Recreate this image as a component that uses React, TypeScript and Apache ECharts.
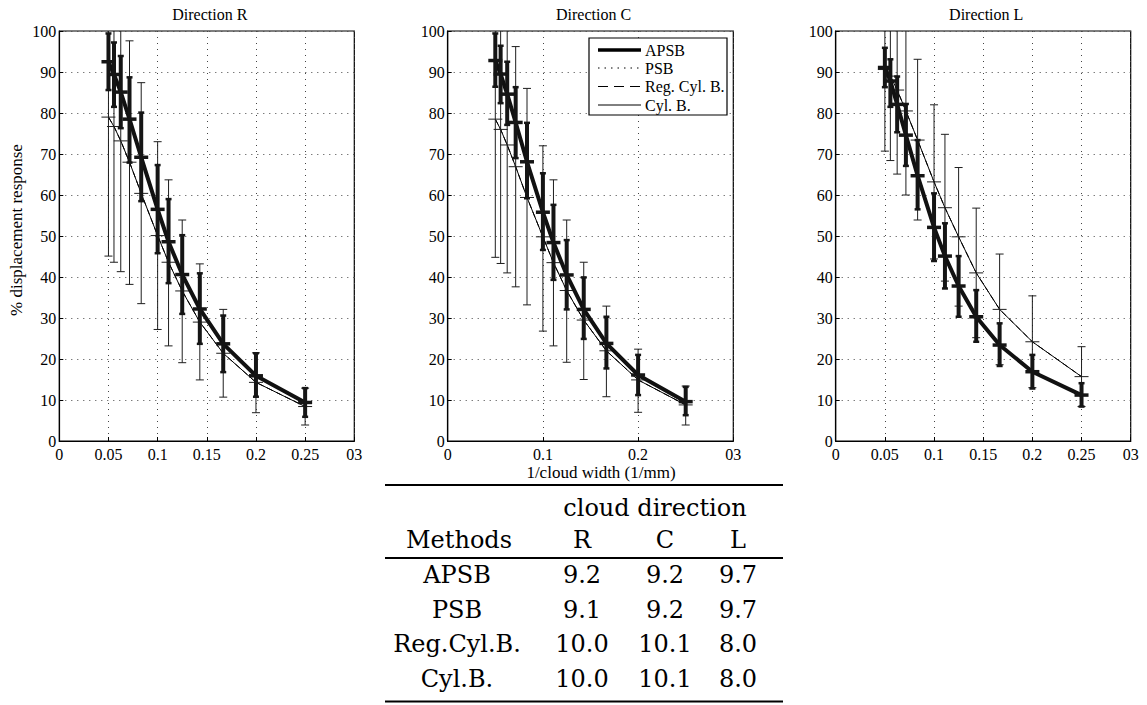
import React, { useEffect, useRef } from "react";
import * as echarts from "echarts";

// x values: 1/cloud width (1/mm)
const invWidth = [0.05, 0.0556, 0.0625, 0.0714, 0.0833, 0.1, 0.1111, 0.125, 0.1429, 0.1667, 0.2, 0.25];

// Direction R
const apsbR = [92.5, 89.4, 85.1, 78.5, 69.2, 56.5, 48.6, 40.6, 32.2, 23.7, 15.9, 9.4];
const apsbRHi = [99.4, 97.2, 93.9, 88.7, 80.1, 67.3, 59.0, 50.2, 40.9, 30.6, 21.4, 12.9];
const apsbRLo = [85.6, 81.5, 76.3, 67.9, 58.5, 45.8, 38.5, 31.0, 23.7, 16.8, 10.8, 5.9];
const psbR = [92.4, 89.4, 85.0, 78.5, 69.1, 56.4, 48.6, 40.6, 32.1, 23.7, 15.9, 9.4];
const cylR = [79.0, 76.7, 73.2, 68.0, 60.4, 50.1, 43.6, 36.6, 29.0, 21.4, 14.3, 8.4];
const cylRHi = [112.9, 109.8, 105.1, 97.6, 87.4, 73.0, 63.7, 53.9, 43.2, 32.1, 21.5, 12.9];
const cylRLo = [45.1, 43.6, 41.3, 38.2, 33.5, 27.2, 23.2, 19.1, 14.9, 10.7, 6.9, 3.9];
const regR = [79.0, 76.7, 73.2, 68.0, 60.4, 50.1, 43.6, 36.6, 29.0, 21.4, 14.3, 8.4];

// Direction C
const apsbC = [92.8, 89.5, 84.6, 77.7, 68.1, 55.8, 48.4, 40.5, 32.1, 23.8, 16.1, 9.6];
const apsbCHi = [99.4, 96.4, 92.5, 86.3, 77.6, 65.3, 57.6, 49.0, 39.9, 30.3, 21.0, 13.2];
const apsbCLo = [86.4, 82.4, 77.1, 69.0, 59.2, 46.6, 39.3, 32.1, 24.9, 17.7, 11.2, 6.3];
const psbC = [92.8, 89.5, 84.6, 77.7, 68.1, 55.8, 48.4, 40.5, 32.1, 23.8, 16.1, 9.6];
const cylC = [78.5, 76.0, 72.2, 66.9, 59.4, 49.8, 43.5, 36.7, 29.5, 22.0, 14.9, 8.8];
const cylCHi = [112.2, 108.7, 103.4, 96.2, 86.0, 72.0, 63.7, 53.9, 43.6, 32.9, 22.4, 13.4];
const cylCLo = [44.8, 43.3, 41.0, 37.6, 33.2, 26.8, 23.2, 19.2, 15.0, 10.8, 7.0, 3.9];
const regC = [78.5, 76.0, 72.2, 66.9, 59.4, 49.8, 43.5, 36.7, 29.5, 22.0, 14.9, 8.8];

// Direction L
const apsbL = [91.1, 87.8, 82.1, 74.6, 64.7, 52.1, 45.1, 37.8, 30.3, 23.4, 16.9, 11.2];
const apsbLHi = [95.9, 93.1, 88.9, 82.2, 73.4, 60.4, 53.1, 45.1, 36.8, 28.7, 21.0, 14.1];
const apsbLLo = [86.3, 81.5, 75.3, 67.1, 56.5, 43.9, 37.2, 30.3, 24.2, 18.3, 12.8, 8.4];
const psbL = [91.1, 87.8, 82.1, 74.6, 64.7, 52.1, 45.1, 37.8, 30.3, 23.4, 16.9, 11.2];
const cylL = [90.6, 89.0, 85.6, 80.5, 73.4, 63.2, 56.9, 49.8, 41.0, 32.1, 24.2, 15.7];
const cylLHi = [110.5, 109.6, 106.1, 101.0, 93.1, 82.0, 74.8, 66.7, 56.8, 45.6, 35.4, 23.0];
const cylLLo = [70.7, 68.4, 65.1, 60.0, 53.9, 44.4, 39.0, 32.9, 25.2, 18.6, 13.0, 8.4];
const regL = [90.6, 89.0, 85.6, 80.5, 73.4, 63.2, 56.9, 49.8, 41.0, 32.1, 24.2, 15.7];

const yTicks = [0, 10, 20, 30, 40, 50, 60, 70, 80, 90, 100];
const legendNames = ["APSB", "PSB", "Reg. Cyl. B.", "Cyl. B."];

// Table
const tableMethods = ["APSB", "PSB", "Reg.Cyl.B.", "Cyl.B."];
const tableDirs = ["R", "C", "L"];
const tableR = [9.2, 9.1, 10.0, 10.0];
const tableC = [9.2, 9.2, 10.1, 10.1];
const tableL = [9.7, 9.7, 8.0, 8.0];

const SERIF = "Liberation Serif";
const TSERIF = "DejaVu Serif";

const panels = [
  { title: "Direction R", interval: 0.05, grid: { left: 59.3, top: 31, width: 295, height: 410 },
    apsb: apsbR, apsbHi: apsbRHi, apsbLo: apsbRLo, psb: psbR, cyl: cylR, cylHi: cylRHi, cylLo: cylRLo, reg: regR },
  { title: "Direction C", interval: 0.1, grid: { left: 447.7, top: 31, width: 285.6, height: 410 },
    apsb: apsbC, apsbHi: apsbCHi, apsbLo: apsbCLo, psb: psbC, cyl: cylC, cylHi: cylCHi, cylLo: cylCLo, reg: regC },
  { title: "Direction L", interval: 0.05, grid: { left: 835.7, top: 31, width: 295, height: 410 },
    apsb: apsbL, apsbHi: apsbLHi, apsbLo: apsbLLo, psb: psbL, cyl: cylL, cylHi: cylLHi, cylLo: cylLLo, reg: regL },
];

function fmtX(v: number) {
  const r = Number(v.toFixed(2));
  if (r === 0.3) return "03";
  return String(r);
}

function errRender(thick: boolean) {
  return (params: any, api: any) => {
    const x = api.value(0);
    const lo = api.value(1);
    const hi = api.value(2);
    const m = api.value(3);
    const cs = params.coordSys;
    const top = cs.y;
    const bottom = cs.y + cs.height;
    const pLo = api.coord([x, lo]);
    const pHi = api.coord([x, hi]);
    const pM = api.coord([x, m]);
    const yHi = Math.max(pHi[1], top);
    const yLo = Math.min(pLo[1], bottom);
    const stroke = thick ? "#151515" : "#1e1e1e";
    const lw = thick ? 4 : 1;
    const capHalf = thick ? 3 : 4;
    const capW = thick ? 2.5 : 1;
    const mk = 7;
    const children: any[] = [
      { type: "line", shape: { x1: pM[0], y1: yLo, x2: pM[0], y2: yHi }, style: { stroke, lineWidth: lw } },
    ];
    if (pHi[1] >= top) {
      children.push({ type: "line", shape: { x1: pHi[0] - capHalf, y1: pHi[1], x2: pHi[0] + capHalf, y2: pHi[1] }, style: { stroke, lineWidth: capW } });
    }
    if (pLo[1] <= bottom) {
      children.push({ type: "line", shape: { x1: pLo[0] - capHalf, y1: pLo[1], x2: pLo[0] + capHalf, y2: pLo[1] }, style: { stroke, lineWidth: capW } });
    }
    children.push({ type: "line", shape: { x1: pM[0] - mk, y1: pM[1], x2: pM[0] + mk, y2: pM[1] }, style: { stroke, lineWidth: thick ? 3.5 : 1 } });
    return { type: "group", children };
  };
}

function buildOption() {
  const grid = panels.map((p) => ({
    ...p.grid,
    show: true,
    borderColor: "#000",
    borderWidth: 1.2,
    backgroundColor: "#fff",
    containLabel: false,
  }));
  const xAxis = panels.map((p, i) => ({
    type: "value",
    gridIndex: i,
    min: 0,
    max: 0.3,
    interval: p.interval,
    axisLine: { show: true, lineStyle: { color: "#000", width: 1.2 } },
    axisTick: { show: true, inside: true, length: 4, lineStyle: { color: "#000" } },
    axisLabel: { color: "#000", fontFamily: SERIF, fontSize: 16, margin: 5, formatter: fmtX },
    splitLine: { show: true, lineStyle: { type: [1, 5], color: "#444", width: 1 } },
  }));
  const yAxis = panels.map((p, i) => ({
    type: "value",
    gridIndex: i,
    min: yTicks[0],
    max: yTicks[yTicks.length - 1],
    interval: yTicks[1] - yTicks[0],
    axisLine: { show: true, lineStyle: { color: "#000", width: 1.2 } },
    axisTick: { show: true, inside: true, length: 4, lineStyle: { color: "#000" } },
    axisLabel: { color: "#000", fontFamily: SERIF, fontSize: 16, margin: 3 },
    splitLine: { show: true, lineStyle: { type: [1, 5], color: "#444", width: 1 } },
  }));
  const series: any[] = [];
  panels.forEach((p, i) => {
    const pair = (arr: number[]) => invWidth.map((x, k) => [x, arr[k]]);
    series.push({
      type: "line", name: legendNames[3], xAxisIndex: i, yAxisIndex: i, data: pair(p.cyl),
      symbol: "none", silent: true, z: 2, lineStyle: { color: "#000", width: 1 },
    });
    series.push({
      type: "line", name: legendNames[2], xAxisIndex: i, yAxisIndex: i, data: pair(p.reg),
      symbol: "none", silent: true, z: 2, lineStyle: { color: "#000", width: 1, type: [6, 4] },
    });
    series.push({
      type: "custom", xAxisIndex: i, yAxisIndex: i, silent: true, z: 3,
      data: invWidth.map((x, k) => [x, p.cylLo[k], p.cylHi[k], p.cyl[k]]),
      renderItem: errRender(false),
    });
    series.push({
      type: "line", name: legendNames[1], xAxisIndex: i, yAxisIndex: i, data: pair(p.psb),
      symbol: "none", silent: true, z: 4, lineStyle: { color: "#000", width: 1, type: [1.5, 4] },
    });
    series.push({
      type: "line", name: legendNames[0], xAxisIndex: i, yAxisIndex: i, data: pair(p.apsb),
      symbol: "none", silent: true, z: 5, lineStyle: { color: "#111", width: 4 },
    });
    series.push({
      type: "custom", xAxisIndex: i, yAxisIndex: i, silent: true, z: 6,
      data: invWidth.map((x, k) => [x, p.apsbLo[k], p.apsbHi[k], p.apsb[k]]),
      renderItem: errRender(true),
    });
  });

  const g: any[] = [];
  // titles
  panels.forEach((p) => {
    g.push({
      type: "text", x: p.grid.left + p.grid.width / 2 + 3, y: 14,
      style: { text: p.title, fontFamily: SERIF, fontSize: 16, fill: "#000", align: "center", verticalAlign: "middle" },
    });
  });
  // y axis name
  g.push({
    type: "text", x: 16, y: 230, rotation: Math.PI / 2,
    style: { text: "% displacement response", fontFamily: SERIF, fontSize: 17, fill: "#000", align: "center", verticalAlign: "middle" },
  });
  // x axis name
  g.push({
    type: "text", x: 601, y: 472,
    style: { text: "1/cloud width (1/mm)", fontFamily: SERIF, fontSize: 17, fill: "#000", align: "center", verticalAlign: "middle" },
  });
  // legend in panel C
  const lg = { x: 589, y: 38, w: 138, h: 77 };
  g.push({ type: "rect", z: 20, shape: { x: lg.x, y: lg.y, width: lg.w, height: lg.h }, style: { fill: "#fff", stroke: "#000", lineWidth: 1.2 } });
  const legStyles = [
    { lineWidth: 3.5, lineDash: null },
    { lineWidth: 1, lineDash: [1.5, 5] },
    { lineWidth: 1, lineDash: [10, 6] },
    { lineWidth: 1, lineDash: null },
  ];
  const legY = [50, 68, 86.5, 105];
  legendNames.forEach((n, k) => {
    g.push({
      type: "line", z: 21, shape: { x1: 598, y1: legY[k], x2: 641, y2: legY[k] },
      style: { stroke: "#000", lineWidth: legStyles[k].lineWidth, lineDash: legStyles[k].lineDash as any },
    });
    g.push({
      type: "text", z: 21, x: 645, y: legY[k],
      style: { text: n, fontFamily: SERIF, fontSize: 16, fill: "#000", align: "left", verticalAlign: "middle" },
    });
  });
  // table
  const ruleL = 385, ruleR = 783;
  [485, 558, 701.5].forEach((y) => {
    g.push({ type: "line", shape: { x1: ruleL, y1: y, x2: ruleR, y2: y }, style: { stroke: "#000", lineWidth: 2.2 } });
  });
  const colX = [582, 665, 738];
  const labelX = 457;
  const tStyle = (text: string) => ({ text, fontFamily: TSERIF, fontSize: 24, fill: "#000", align: "center", verticalAlign: "middle" });
  g.push({ type: "text", x: 655, y: 508, style: tStyle("cloud direction") });
  g.push({ type: "text", x: labelX + 2, y: 540, style: tStyle("Methods") });
  tableDirs.forEach((d, c) => g.push({ type: "text", x: colX[c], y: 540, style: tStyle(d) }));
  const rowY = [575, 610, 644, 678.5];
  const cols = [tableR, tableC, tableL];
  tableMethods.forEach((m, r) => {
    g.push({ type: "text", x: labelX, y: rowY[r], style: tStyle(m) });
    cols.forEach((arr, c) => g.push({ type: "text", x: colX[c], y: rowY[r], style: tStyle(arr[r].toFixed(1)) }));
  });

  return {
    animation: false,
    backgroundColor: "#fff",
    grid,
    xAxis,
    yAxis,
    series,
    graphic: g,
  };
}

export default function App() {
  const ref = useRef<HTMLDivElement>(null);
  useEffect(() => {
    if (!ref.current) return;
    const chart = echarts.init(ref.current, undefined, { renderer: "svg" });
    chart.setOption(buildOption() as any);
    return () => chart.dispose();
  }, []);
  return (
    <div
      ref={ref}
      style={{ position: "fixed", left: 0, top: 0, width: 1147, height: 705, background: "#fff" }}
    />
  );
}
